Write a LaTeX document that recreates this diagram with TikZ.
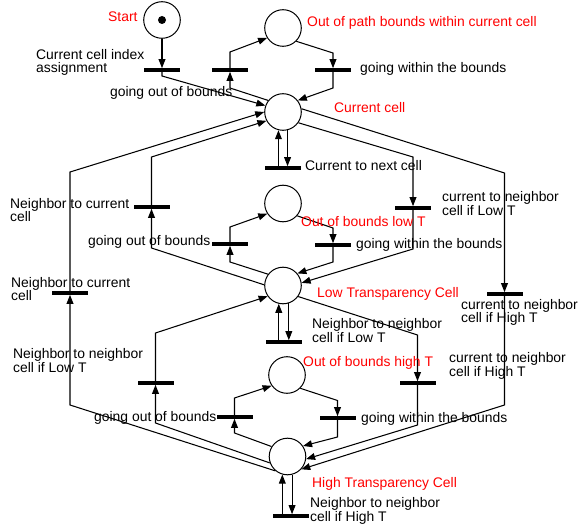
\documentclass[tikz,border=0pt]{standalone}
\usepackage{fontspec}
\setmainfont{Liberation Sans}
\usetikzlibrary{arrows.meta}
\begin{document}
\begin{tikzpicture}[x=1pt,y=-1pt,
  place/.style={circle,draw,line width=1pt,minimum size=36.6pt,inner sep=0},
  trans/.style={rectangle,fill=black,minimum width=36pt,minimum height=3.2pt,inner sep=0},
  arc/.style={line width=1.05pt,-{Triangle[length=9pt,width=6.8pt]}},
  lbl/.style={font=\fontsize{13.9}{13.8}\selectfont,inner sep=0,anchor=base west,align=left},
  rlbl/.style={lbl,text=red}]
\useasboundingbox (0,0) rectangle (579,524);
% places
\node[place] (start) at (162,20) {};
\node[circle,fill=black,minimum size=8pt,inner sep=0] (token) at (162,20) {};
\node[place] (poob) at (283,28) {};
\node[place] (cc) at (283,112) {};
\node[place] (plo) at (283,203.5) {};
\node[place] (lc) at (283,285.5) {};
\node[place] (pho) at (287,375) {};
\node[place] (hc) at (287.5,456.5) {};
% transitions
\node[trans] (tstart) at (162,70) {};
\node[trans] (tout1) at (230,70) {};
\node[trans] (tin1) at (333,70) {};
\node[trans] (tnext) at (283,168) {};
\node[trans] (tlo1) at (413,208) {};
\node[trans] (thi1) at (504.5,294) {};
\node[trans] (tout2) at (230,244) {};
\node[trans] (tin2) at (333,245) {};
\node[trans] (tnc1) at (151.5,207) {};
\node[trans] (tnc2) at (70,293) {};
\node[trans] (tnn1) at (283.5,342) {};
\node[trans] (thi2) at (417.5,383) {};
\node[trans] (tnn2) at (155.5,383) {};
\node[trans] (tout3) at (234.5,417) {};
\node[trans] (tin3) at (337.5,418) {};
\node[trans] (tnn3) at (290.5,516) {};
% arcs
\draw[arc] (start) -- (tstart.north);
\draw[arc] (tstart.south) -- (162,76) -- (cc.160);
\draw[arc] (cc.142) -- (230,88) -- (tout1.south);
\draw[arc] (tout1.north) -- (230,52) -- (poob.212);
\draw[arc] (poob.315) -- (333,53) -- (tin1.north);
\draw[arc] (tin1.south) -- (333,88) -- (cc.38);
\draw[arc] (cc.284) -- (cc.284 |- tnext.north);
\draw[arc] (cc.256 |- tnext.north) -- (cc.256);
\draw[arc] (cc.10) -- (504.5,173) -- (thi1.north);
\draw[arc] (cc.325) -- (413,157) -- (tlo1.north);
\draw[arc] (tlo1.south) -- (413,249) -- (lc.8);
\draw[arc] (plo.319) -- (333,228) -- (tin2.north);
\draw[arc] (tin2.south) -- (333,262) -- (lc.40);
\draw[arc] (lc.143) -- (230,262) -- (tout2.south);
\draw[arc] (tout2.north) -- (230,227) -- (plo.213);
\draw[arc] (lc.178) -- (151.5,248) -- (tnc1.south);
\draw[arc] (tnc1.north) -- (151.5,157) -- (cc.208);
\draw[arc] (lc.324) -- (417.5,335) -- (thi2.north);
\draw[arc] (hc.200) -- (155.5,423) -- (tnn2.south);
\draw[arc] (tnn2.north) -- (155.5,333) -- (lc.215);
\draw[arc] (hc.230) -- (70,405) -- (tnc2.south);
\draw[arc] (tnc2.north) -- (70,172) -- (cc.180);
\draw[arc] (hc.148) -- (234.5,433) -- (tout3.south);
\draw[arc] (tout3.north) -- (234.5,398) -- (pho.215);
\draw[arc] (pho.315) -- (337.5,400.5) -- (tin3.north);
\draw[arc] (tin3.south) -- (337.5,437) -- (hc.34);
\draw[arc] (thi2.south) -- (417.5,425) -- (hc.352);
\draw[arc] (thi1.south) -- (504.5,405) -- (hc.317);
\draw[arc] (lc.288) -- (lc.288 |- tnn1.north);
\draw[arc] (lc.257 |- tnn1.north) -- (lc.257);
\draw[arc] (hc.284) -- (hc.284 |- tnn3.north);
\draw[arc] (hc.254 |- tnn3.north) -- (hc.254);
% labels
\node[rlbl] (l1) at (108,22) {Start};
\node[lbl] (l2) at (36,73) {Current cell index\\assignment};
\node[lbl] (l3) at (110,97) {going out of bounds};
\node[rlbl] (l4) at (307,27) {Out of path bounds within current cell};
\node[lbl] (l5) at (360,73) {going within the bounds};
\node[rlbl] (l6) at (334,113) {Current cell};
\node[lbl] (l7) at (305,171) {Current to next cell};
\node[lbl] (l8) at (10,222) {Neighbor to current\\cell};
\node[lbl] (l9) at (88,246) {going out of bounds};
\node[lbl] (l10) at (11,301) {Neighbor to current\\cell};
\node[lbl] (l11) at (442,215) {current to neighbor\\cell if Low T};
\node[rlbl] (l12) at (301,226) {Out of bounds low T};
\node[lbl] (l13) at (356,248) {going within the bounds};
\node[rlbl] (l14) at (317,298) {Low Transparency Cell};
\node[lbl] (l15) at (461,323) {current to neighbor\\cell if High T};
\node[lbl] (l16) at (312,342) {Neighbor to neighbor\\cell if Low T};
\node[lbl] (l17) at (13,372) {Neighbor to neighbor\\cell if Low T};
\node[rlbl] (l18) at (303,366) {Out of bounds high T};
\node[lbl] (l19) at (449,376) {current to neighbor\\cell if High T};
\node[lbl] (l20) at (94,421) {going out of bounds};
\node[lbl] (l21) at (361,422) {going within the bounds};
\node[rlbl] (l22) at (312,487) {High Transparency Cell};
\node[lbl] (l23) at (310,521) {Neighbor to neighbor\\cell if High T};
\end{tikzpicture}
\end{document}
